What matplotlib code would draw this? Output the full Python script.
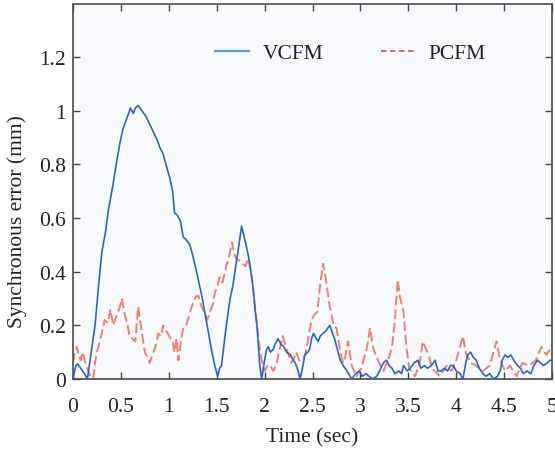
import matplotlib
matplotlib.use("Agg")
import matplotlib.pyplot as plt
import numpy as np
from matplotlib.lines import Line2D

vcfm_t = [0.00, 0.03, 0.05, 0.08, 0.12, 0.15, 0.19, 0.23, 0.27, 0.30, 0.34, 0.37, 0.42, 0.46, 0.49,
          0.52, 0.56, 0.60, 0.63, 0.65, 0.68, 0.72, 0.76, 0.80, 0.84, 0.88, 0.91, 0.94, 0.97, 1.01,
          1.04, 1.06, 1.09, 1.12, 1.15, 1.18, 1.22, 1.25, 1.29, 1.32, 1.35, 1.38, 1.40, 1.43, 1.45,
          1.48, 1.51, 1.53, 1.55, 1.59, 1.62, 1.64, 1.67, 1.69, 1.72, 1.74, 1.76, 1.78, 1.80, 1.83,
          1.85, 1.88, 1.90, 1.92, 1.95, 1.97, 2.00, 2.02, 2.04, 2.06, 2.09, 2.11, 2.14, 2.17, 2.20,
          2.23, 2.27, 2.30, 2.32, 2.35, 2.37, 2.40, 2.42, 2.45, 2.47, 2.49, 2.51, 2.54, 2.56, 2.58,
          2.61, 2.64, 2.68, 2.70, 2.73, 2.76, 2.79, 2.82, 2.86, 2.91, 2.95, 2.99, 3.02, 3.06, 3.09,
          3.13, 3.17, 3.20, 3.24, 3.27, 3.30, 3.33, 3.36, 3.40, 3.43, 3.45, 3.49, 3.52, 3.56, 3.60,
          3.63, 3.67, 3.70, 3.74, 3.78, 3.81, 3.84, 3.88, 3.91, 3.94, 3.97, 4.00, 4.04, 4.07, 4.10,
          4.12, 4.15, 4.18, 4.21, 4.24, 4.28, 4.31, 4.35, 4.39, 4.43, 4.46, 4.48, 4.51, 4.54, 4.57,
          4.60, 4.64, 4.67, 4.70, 4.74, 4.78, 4.81, 4.85, 4.88, 4.91, 4.95, 4.98, 5.00]
vcfm_y = [0.00, 0.05, 0.056, 0.04, 0.02, 0.00, 0.10, 0.20, 0.36, 0.47, 0.55, 0.63, 0.73, 0.82, 0.88,
          0.93, 0.97, 1.01, 0.99, 1.01, 1.02, 1.00, 0.98, 0.95, 0.92, 0.89, 0.86, 0.84, 0.80, 0.75,
          0.70, 0.62, 0.61, 0.59, 0.53, 0.52, 0.50, 0.46, 0.40, 0.35, 0.30, 0.24, 0.20, 0.14, 0.10,
          0.05, 0.01, 0.04, 0.05, 0.17, 0.25, 0.30, 0.35, 0.40, 0.47, 0.52, 0.57, 0.54, 0.51, 0.46,
          0.42, 0.34, 0.26, 0.20, 0.05, 0.00, 0.07, 0.11, 0.12, 0.10, 0.11, 0.13, 0.15, 0.13, 0.12,
          0.10, 0.09, 0.07, 0.06, 0.03, 0.00, 0.05, 0.09, 0.10, 0.11, 0.15, 0.17, 0.15, 0.14, 0.16,
          0.17, 0.18, 0.20, 0.18, 0.15, 0.11, 0.07, 0.05, 0.03, 0.00, 0.02, 0.03, 0.01, 0.02, 0.01,
          0.00, 0.01, 0.03, 0.06, 0.07, 0.05, 0.04, 0.02, 0.03, 0.02, 0.05, 0.03, 0.04, 0.06, 0.07,
          0.04, 0.05, 0.04, 0.05, 0.07, 0.03, 0.03, 0.04, 0.03, 0.05, 0.05, 0.03, 0.02, 0.00, 0.06,
          0.09, 0.10, 0.08, 0.07, 0.04, 0.02, 0.01, 0.02, 0.00, 0.01, 0.03, 0.07, 0.09, 0.08, 0.09,
          0.07, 0.05, 0.04, 0.02, 0.03, 0.02, 0.05, 0.07, 0.06, 0.05, 0.06, 0.07, 0.07]

pcfm_t = [0.00, 0.02, 0.04, 0.06, 0.08, 0.10, 0.13, 0.16, 0.18, 0.21, 0.23, 0.25, 0.28, 0.30, 0.33,
          0.36, 0.39, 0.42, 0.45, 0.47, 0.49, 0.51, 0.54, 0.57, 0.59, 0.62, 0.65, 0.68, 0.70, 0.72,
          0.75, 0.78, 0.80, 0.83, 0.86, 0.89, 0.92, 0.94, 0.97, 0.99, 1.02, 1.04, 1.06, 1.08, 1.10,
          1.13, 1.15, 1.18, 1.20, 1.23, 1.26, 1.29, 1.31, 1.34, 1.37, 1.40, 1.43, 1.46, 1.48, 1.51,
          1.53, 1.56, 1.60, 1.63, 1.66, 1.68, 1.70, 1.74, 1.77, 1.80, 1.83, 1.85, 1.87, 1.90, 1.93,
          1.95, 1.97, 2.00, 2.03, 2.06, 2.09, 2.12, 2.15, 2.19, 2.22, 2.25, 2.28, 2.31, 2.33, 2.36,
          2.40, 2.43, 2.45, 2.49, 2.52, 2.55, 2.58, 2.61, 2.64, 2.68, 2.70, 2.72, 2.75, 2.79, 2.82,
          2.84, 2.87, 2.91, 2.96, 3.01, 3.07, 3.10, 3.13, 3.17, 3.21, 3.24, 3.29, 3.33, 3.36, 3.39,
          3.41, 3.45, 3.48, 3.51, 3.57, 3.62, 3.65, 3.70, 3.75, 3.83, 3.90, 3.95, 4.00, 4.04, 4.07,
          4.10, 4.15, 4.21, 4.28, 4.35, 4.39, 4.42, 4.46, 4.51, 4.56, 4.63, 4.69, 4.76, 4.83, 4.89,
          4.94, 4.98, 5.00]
pcfm_y = [0.06, 0.10, 0.12, 0.09, 0.07, 0.10, 0.06, 0.03, 0.01, 0.00, 0.06, 0.10, 0.14, 0.17, 0.22,
          0.21, 0.26, 0.20, 0.23, 0.25, 0.27, 0.30, 0.24, 0.20, 0.16, 0.15, 0.14, 0.27, 0.22, 0.17,
          0.10, 0.08, 0.06, 0.09, 0.12, 0.17, 0.16, 0.20, 0.18, 0.17, 0.15, 0.14, 0.10, 0.15, 0.07,
          0.15, 0.19, 0.20, 0.22, 0.26, 0.29, 0.31, 0.31, 0.27, 0.25, 0.22, 0.25, 0.28, 0.32, 0.35,
          0.38, 0.36, 0.42, 0.46, 0.51, 0.47, 0.45, 0.44, 0.43, 0.42, 0.45, 0.41, 0.37, 0.27, 0.17,
          0.11, 0.07, 0.03, 0.05, 0.05, 0.03, 0.05, 0.10, 0.16, 0.12, 0.09, 0.06, 0.08, 0.10, 0.07,
          0.07, 0.10, 0.14, 0.22, 0.24, 0.25, 0.35, 0.43, 0.37, 0.27, 0.24, 0.20, 0.19, 0.10, 0.06,
          0.08, 0.14, 0.05, 0.01, 0.04, 0.12, 0.19, 0.12, 0.08, 0.05, 0.03, 0.07, 0.12, 0.22, 0.37,
          0.31, 0.25, 0.12, 0.04, 0.01, 0.06, 0.14, 0.10, 0.04, 0.01, 0.05, 0.03, 0.07, 0.12, 0.16,
          0.10, 0.06, 0.05, 0.03, 0.05, 0.10, 0.14, 0.07, 0.03, 0.05, 0.01, 0.06, 0.05, 0.07, 0.12,
          0.09, 0.11, 0.09]

xticks = [0, 0.5, 1, 1.5, 2, 2.5, 3, 3.5, 4, 4.5, 5]
xticklabels = ["0", "0.5", "1", "1.5", "2", "2.5", "3", "3.5", "4", "4.5", "5"]
yticks = [0, 0.2, 0.4, 0.6, 0.8, 1.0, 1.2]
yticklabels = ["0", "0.2", "0.4", "0.6", "0.8", "1", "1.2"]

plt.rcParams['font.family'] = ['Liberation Serif', 'DejaVu Serif']
fs = 15.5

fig = plt.figure(figsize=(5.55, 4.52), dpi=100)
ax = fig.add_axes([73/555, 1-380/452, (552-73)/555, (380-4.5)/452])
ax.set_facecolor('#f8f9fd')

ax.plot(pcfm_t, pcfm_y, color='#ee6a55', lw=1.4, ls=(0, (5, 2)), alpha=0.85, label='PCFM', zorder=2)
ax.plot(vcfm_t, vcfm_y, color='#2b66c4', lw=1.2, label='VCFM', zorder=3)

ax.set_xlim(0, 5)
ax.set_ylim(0, 1.4)
ax.set_xticks(xticks)
ax.set_xticklabels(xticklabels)
ax.set_yticks(yticks)
ax.set_yticklabels(yticklabels)
ax.tick_params(direction='in', top=True, right=True, length=5, width=1,
               color='#404848', labelsize=fs, labelcolor='#222222')
ax.tick_params(axis='x', pad=13)
ax.tick_params(axis='y', pad=5)
for s in ax.spines.values():
    s.set_color('#4a4a4a')
    s.set_linewidth(1.2)

ax.set_xlabel('Time (sec)', fontsize=fs, color='#222222')
ax.set_ylabel('Synchronous error (mm)', fontsize=fs, color='#222222')
ax.xaxis.set_label_coords(0.5, (380-428)/375.5)
ax.yaxis.set_label_coords((27-73)/479, (380-222)/375.5)

h1 = Line2D([], [], color='#5b9bd5', lw=1.6)
h2 = Line2D([], [], color='#e8545a', lw=1.3, ls=(0, (3, 2)))
leg = ax.legend([h1, h2], ['VCFM', 'PCFM'], ncol=2, frameon=False, fontsize=fs,
                loc='center left', bbox_to_anchor=((215-73)/479, (380-54)/375.5),
                borderpad=0, borderaxespad=0, handlelength=1.6, handletextpad=0.6,
                columnspacing=2.7)
for t in leg.get_texts():
    t.set_color('#222222')

fig.savefig('out.png', dpi=100)
